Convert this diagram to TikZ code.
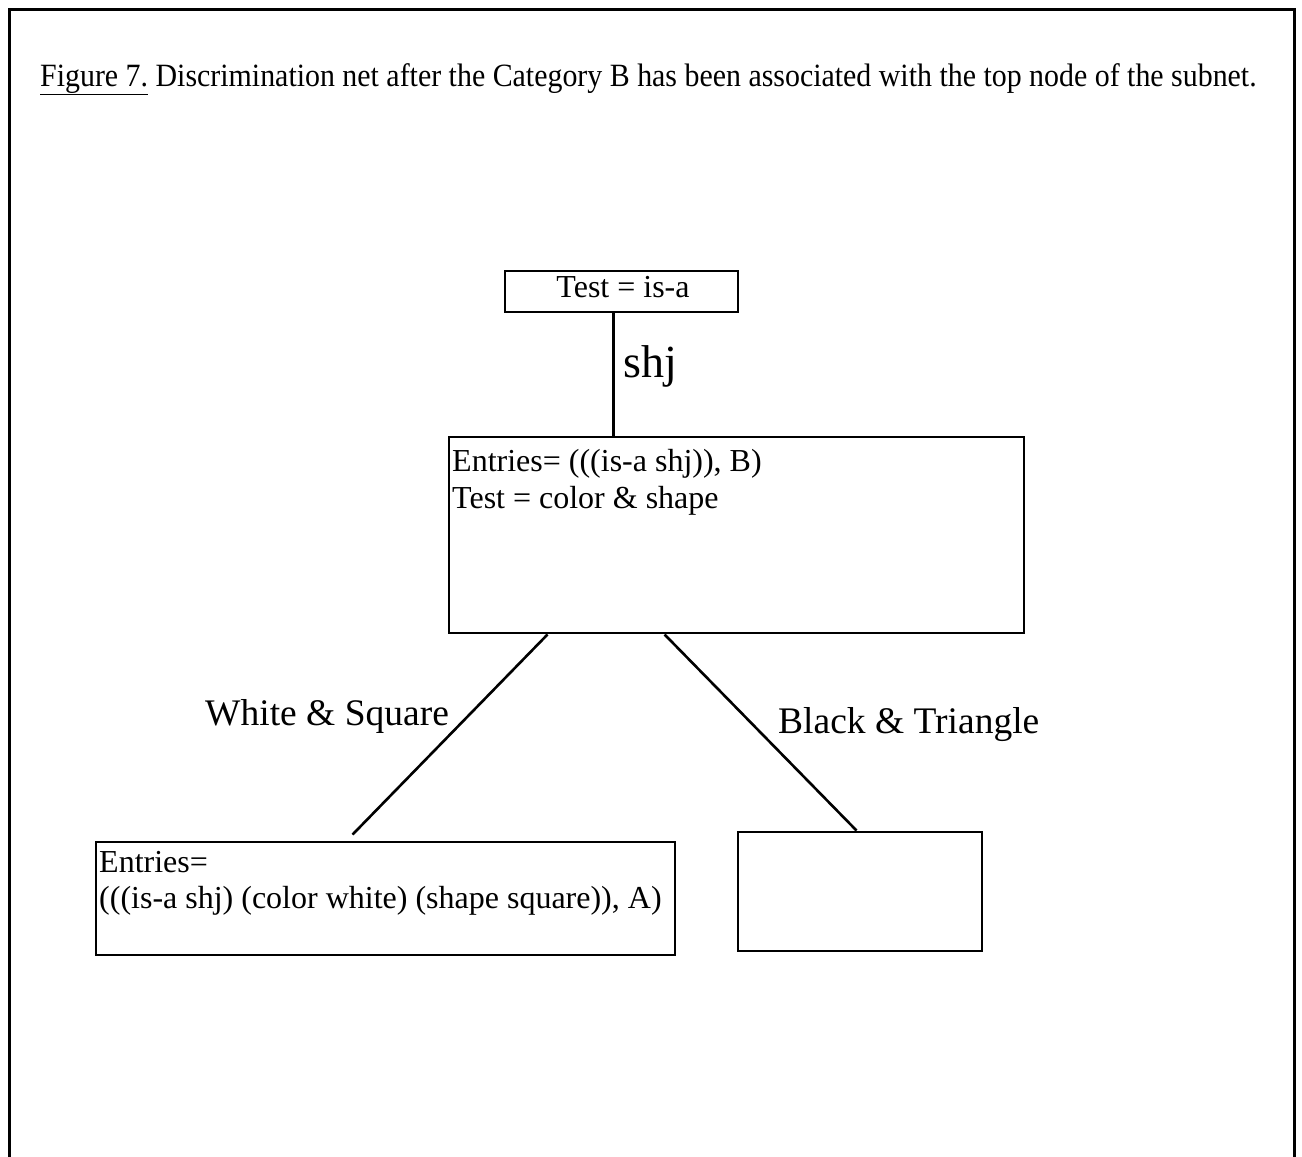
\documentclass[tikz,border=0pt]{standalone}
\usepackage{fontspec}
\setmainfont{Liberation Serif}
\begin{document}
\begin{tikzpicture}[x=1pt,y=-1pt,
  box/.style={draw, line width=2.9pt, inner sep=0pt},
  link/.style={line width=2.6pt},
  boxtext/.style={inner sep=0pt, anchor=base west, font=\fontsize{32}{36}\selectfont},
  edgelabel/.style={inner sep=0pt, anchor=base west, font=\fontsize{37.5}{40}\selectfont}]
\useasboundingbox (0,0) rectangle (1302,1157);
% page frame, open at the bottom
\draw[line width=3pt] (9,1162) -- (9,9) -- (1294,9) -- (1294,1162);
% caption
\node[inner sep=0pt, anchor=base west, font=\fontsize{32.5}{34}\selectfont] (caption) at (40,86)
  {\scalebox{0.92}[1]{\underline{Figure 7.} Discrimination net after the Category B has been associated with the top node of the subnet.}};
% boxes of the net
\node[box, minimum width=233pt, minimum height=41pt] (top) at (621.5,291.5) {};
\node[box, minimum width=575pt, minimum height=196pt] (mid) at (736.5,535) {};
\node[box, minimum width=579pt, minimum height=113pt] (bl) at (385.5,898.5) {};
\node[box, minimum width=244pt, minimum height=119pt] (br) at (860,891.5) {};
% box contents
\node[boxtext, anchor=base] (toptext) at (623,297) {Test = is-a};
\node[boxtext] (midtext1) at (452,471) {Entries= (((is-a shj)), B)};
\node[boxtext] (midtext2) at (452,508) {Test = color \& shape};
\node[boxtext] (bltext1) at (99,872) {Entries=};
\node[boxtext] (bltext2) at (99,908) {(((is-a shj) (color white) (shape square)), A)};
% branches
\draw[link] ([xshift=110pt]top.south west) -- ([xshift=110pt]top.south west |- mid.north);
\draw[link] ([xshift=100pt]mid.south west) -- ([xshift=258pt,yshift=6pt]bl.north west);
\draw[link] ([xshift=217pt]mid.south west) -- ([xshift=120pt]br.north west);
% branch labels
\node[edgelabel, font=\fontsize{46}{48}\selectfont] (shj) at (623,377) {shj};
\node[edgelabel] (white) at (205,725) {White \& Square};
\node[edgelabel] (black) at (778,733) {Black \& Triangle};
\end{tikzpicture}
\end{document}
